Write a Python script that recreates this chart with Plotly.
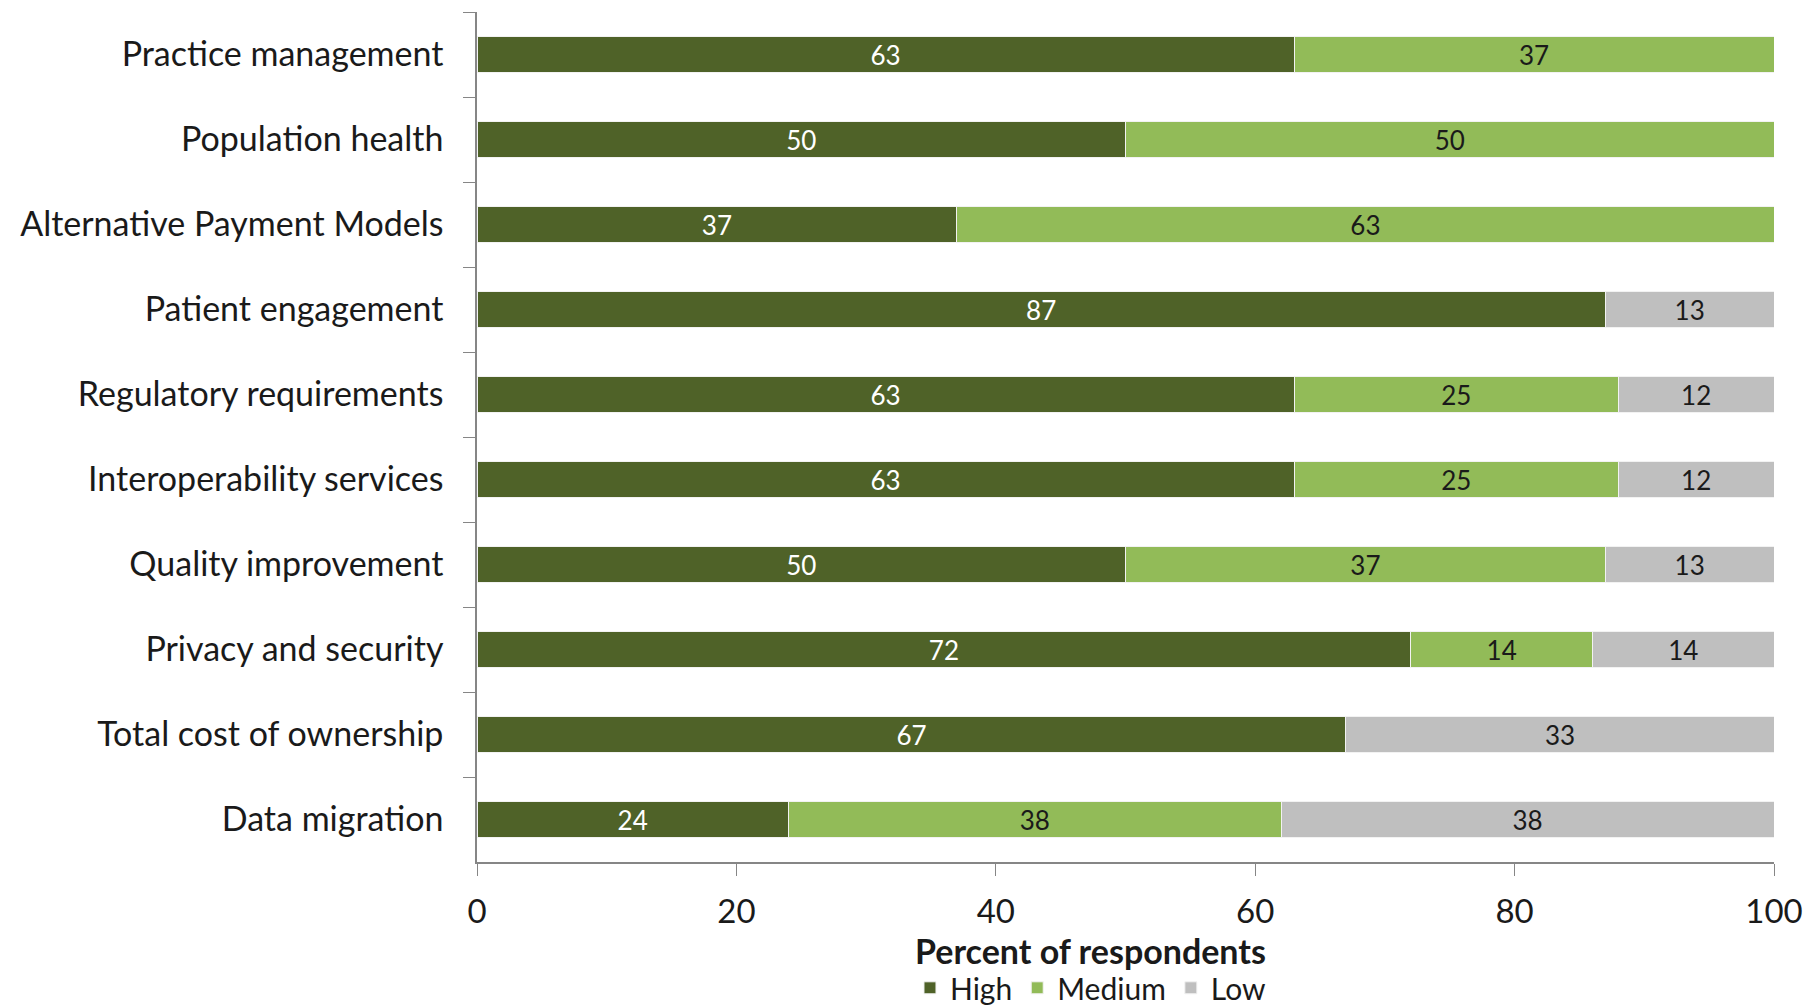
import plotly.graph_objects as go

categories = [
    "Practice management",
    "Population health",
    "Alternative Payment Models",
    "Patient engagement",
    "Regulatory requirements",
    "Interoperability services",
    "Quality improvement",
    "Privacy and security",
    "Total cost of ownership",
    "Data migration",
]
high = [63, 50, 37, 87, 63, 63, 50, 72, 67, 24]
medium = [37, 50, 63, 0, 25, 25, 37, 14, 0, 38]
low = [0, 0, 0, 13, 12, 12, 13, 14, 33, 38]

series = [
    ("High", high, "#4f6228", "white"),
    ("Medium", medium, "#92bb58", "#1a1a1a"),
    ("Low", low, "#bfbfbf", "#1a1a1a"),
]

FONT = "Lato"
TXT = "#1a1a1a"
AXIS = "#868686"

fig = go.Figure()
for name, vals, color, txtcolor in series:
    fig.add_trace(go.Bar(
        name=name,
        y=categories,
        x=vals,
        orientation="h",
        marker=dict(color=color, line=dict(color="#f2f2f2", width=1)),
        text=[str(v) if v else "" for v in vals],
        textposition="inside",
        insidetextanchor="middle",
        constraintext="none",
        textfont=dict(family=FONT, size=26, color=txtcolor),
        textangle=0,
        hoverinfo="skip",
    ))

fig.update_layout(
    barmode="stack",
    bargap=0.58,
    width=1820,
    height=1007,
    margin=dict(l=477, r=46, t=12, b=145, autoexpand=False),
    paper_bgcolor="white",
    plot_bgcolor="white",
    font=dict(family=FONT, size=28, color=TXT),
    uniformtext=dict(mode="show", minsize=10),
    legend=dict(
        orientation="h",
        traceorder="normal",
        x=0.473, xanchor="center",
        y=-0.148, yanchor="middle",
        font=dict(family=FONT, size=30, color=TXT),
        itemwidth=30,
    ),
    showlegend=True,
    annotations=[dict(
        text="<b>Percent of respondents</b>",
        xref="paper", yref="paper",
        x=0.473, xanchor="center",
        y=-0.104, yanchor="middle",
        showarrow=False,
        font=dict(family=FONT, size=34, color=TXT),
    )],
)

fig.update_xaxes(
    range=[0, 100],
    tickvals=[0, 20, 40, 60, 80, 100],
    ticks="outside",
    ticklen=12,
    tickcolor=AXIS,
    showline=True,
    linecolor=AXIS,
    linewidth=1.5,
    showgrid=False,
    zeroline=False,
    ticklabelstandoff=8,
    tickfont=dict(family=FONT, size=33, color=TXT),
)
fig.update_yaxes(
    autorange="reversed",
    ticks="outside",
    tickson="boundaries",
    ticklen=12,
    tickcolor=AXIS,
    showline=True,
    linecolor=AXIS,
    linewidth=1.5,
    showgrid=False,
    ticklabelstandoff=25,
    tickfont=dict(family=FONT, size=34, color=TXT),
)

fig.write_html("out.html")
